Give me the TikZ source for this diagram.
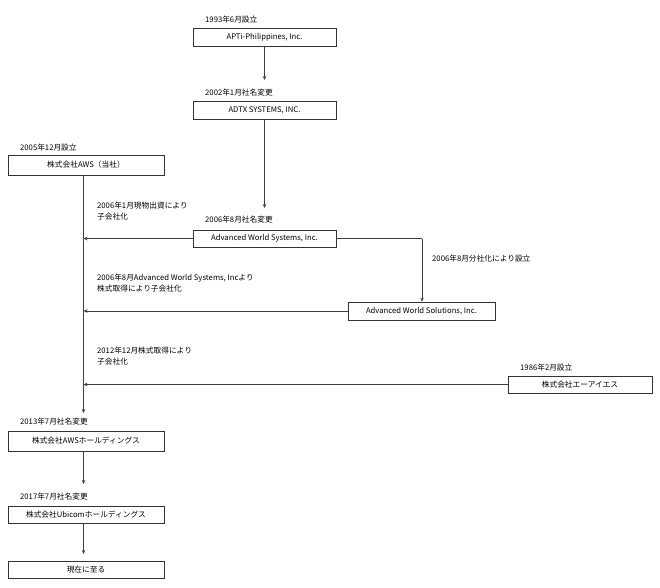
\documentclass[tikz,border=0pt]{standalone}
\usepackage{fontspec}
\setmainfont{Noto Sans CJK JP}
\usetikzlibrary{arrows.meta}
\tikzset{
  box/.style={draw=black!80, line width=0.7pt, fill=white, inner sep=0pt, font=\fontsize{7.7}{8}\selectfont},
  lbl/.style={inner sep=0pt, anchor=base west, font=\fontsize{7.7}{8}\selectfont},
  lbl2/.style={inner sep=0pt, anchor=north west, align=left, font=\fontsize{7.7}{10.5}\selectfont},
  conn/.style={draw=black!75, line width=0.7pt},
  arr/.style={conn, -{Stealth[length=4pt,width=3.5pt]}}
}
\begin{document}
\begin{tikzpicture}[x=1pt,y=-1pt]
\useasboundingbox[fill=white] (0,0) rectangle (660,587);
% boxes
\node[box, minimum width=143pt, minimum height=18pt] (apti) at (264.5,37) {APTi-Philippines, Inc.};
\node[box, minimum width=143pt, minimum height=18pt] (adtx) at (264.5,110) {ADTX SYSTEMS, INC.};
\node[box, minimum width=156pt, minimum height=20pt] (aws) at (86,165) {株式会社AWS（当社）};
\node[box, minimum width=143pt, minimum height=17pt] (awsys) at (264.5,238.5) {Advanced World Systems, Inc.};
\node[box, minimum width=147pt, minimum height=18pt] (sol) at (421.5,311) {Advanced World Solutions, Inc.};
\node[box, minimum width=144pt, minimum height=17pt] (ais) at (580,384.5) {株式会社エーアイエス};
\node[box, minimum width=156pt, minimum height=20pt] (hd) at (86,441) {株式会社AWSホールディングス};
\node[box, minimum width=156pt, minimum height=17pt] (ubi) at (86,514.5) {株式会社Ubicomホールディングス};
\node[box, minimum width=156pt, minimum height=17pt] (now) at (86,569.5) {現在に至る};
% labels
\node[lbl] (l1) at (205,22) {1993年6月設立};
\node[lbl] (l2) at (205,95) {2002年1月社名変更};
\node[lbl] (l3) at (20,150) {2005年12月設立};
\node[lbl] (l4) at (205,222) {2006年8月社名変更};
\node[lbl] (l5) at (432,261) {2006年8月分社化により設立};
\node[lbl] (l6) at (520,370) {1986年2月設立};
\node[lbl] (l7) at (20,424) {2013年7月社名変更};
\node[lbl] (l8) at (20,499) {2017年7月社名変更};
\node[lbl2] (c1) at (97,202) {2006年1月現物出資により\\子会社化};
\node[lbl2] (c2) at (97,274) {2006年8月Advanced World Systems, Incより\\株式取得により子会社化};
\node[lbl2] (c3) at (97,347) {2012年12月株式取得により\\子会社化};
% coordinates
\coordinate (t1) at (264.5,80);
\coordinate (t2) at (264.5,208);
\coordinate (v1) at (83.5,238.5);
\coordinate (v2) at (83.5,311);
\coordinate (v3) at (83.5,384.5);
\coordinate (t3) at (83.5,413);
\coordinate (t4) at (83.5,484);
\coordinate (t5) at (83.5,554);
\coordinate (k1) at (422,238.5);
% connectors
\draw[arr] (apti.south) -- (t1);
\draw[arr] (adtx.south) -- (t2);
\draw[arr] (aws.south -| v1) -- (t3);
\draw[arr] (awsys.west) -- (v1);
\draw[arr] (sol.west) -- (v2);
\draw[arr] (ais.west) -- (v3);
\draw[conn] (awsys.east) -- (k1);
\draw[arr] (k1) -- (sol.north -| k1);
\draw[arr] (hd.south -| v1) -- (t4);
\draw[arr] (ubi.south -| v1) -- (t5);
\end{tikzpicture}
\end{document}
